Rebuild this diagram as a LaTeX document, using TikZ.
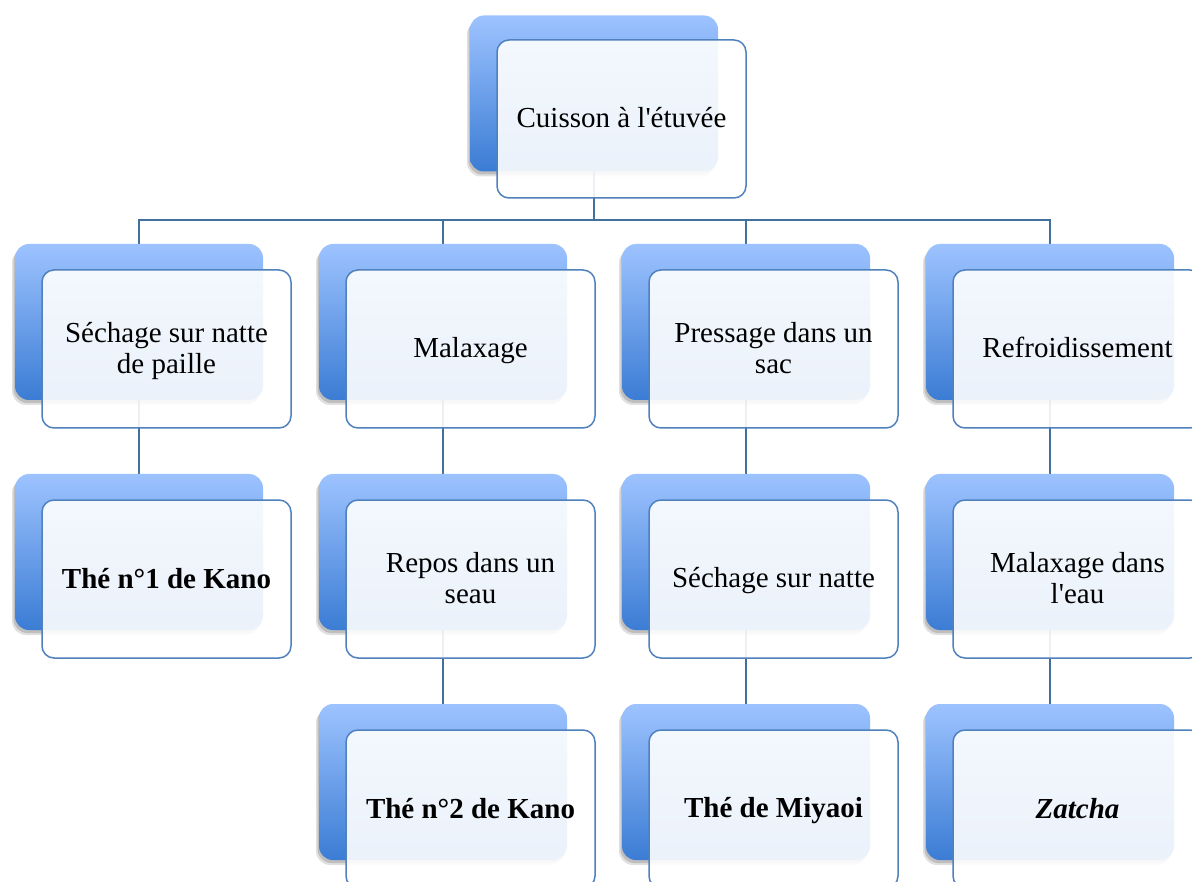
\documentclass[tikz,border=0pt]{standalone}
\usepackage{fontspec}
\setmainfont{Liberation Serif}[Ligatures=TeXOff]
\usetikzlibrary{shadows}
\pgfdeclarelayer{bg}
\pgfsetlayers{bg,main}
\definecolor{backtop}{HTML}{9DC3FF}
\definecolor{backbot}{HTML}{3B7CD4}
\definecolor{frontline}{HTML}{4F81BD}
\definecolor{conn}{HTML}{41709C}
\newcommand{\vs}{\rule[-6pt]{0pt}{30pt}}
\begin{document}
\begin{tikzpicture}[x=1pt,y=-1pt,
  backbox/.style={rounded corners=14pt, minimum width=248pt, minimum height=156pt,
    inner sep=0pt, top color=backtop, bottom color=backbot, draw=none,
    drop shadow={shadow xshift=-3pt, shadow yshift=-5pt, opacity=0.12, fill=black},
    drop shadow={shadow xshift=-1.5pt, shadow yshift=-3pt, opacity=0.15, fill=black}},
  frontbox/.style={rounded corners=12pt, minimum width=249pt, minimum height=158pt,
    draw=frontline, line width=1.5pt, fill=white, fill opacity=0.9, text opacity=1,
    align=center, font=\fontsize{29}{30}\selectfont, inner sep=0pt},
  link/.style={draw=conn, line width=1.6pt}]
\useasboundingbox (0,0) rectangle (1192,882);
\begin{pgfonlayer}{bg}
\fill[white] (0,0) rectangle (1192,882);
\end{pgfonlayer}
% top
\node[backbox] (tb) at (594,93.5) {};
\node[frontbox] (tf) at (621.5,119) {\vs Cuisson à l'étuvée};
% row 1
\node[backbox] (a1b) at (139,322) {};
\node[frontbox] (a1) at (166.5,349) {\vs Séchage sur natte\\\vs de paille};
\node[backbox] (a2b) at (443,322) {};
\node[frontbox] (a2) at (470.5,349) {\vs Malaxage};
\node[backbox] (a3b) at (746,322) {};
\node[frontbox] (a3) at (773.5,349) {\vs Pressage dans un\\\vs sac};
\node[backbox] (a4b) at (1050,322) {};
\node[frontbox] (a4) at (1077.5,349) {\vs Refroidissement};
% row 2
\node[backbox] (b1b) at (139,552) {};
\node[frontbox] (b1) at (166.5,579) {\vs\textbf{Thé n°1 de Kano}};
\node[backbox] (b2b) at (443,552) {};
\node[frontbox] (b2) at (470.5,579) {\vs Repos dans un\\\vs seau};
\node[backbox] (b3b) at (746,552) {};
\node[frontbox] (b3) at (773.5,579) {\vs Séchage sur natte};
\node[backbox] (b4b) at (1050,552) {};
\node[frontbox] (b4) at (1077.5,579) {\vs Malaxage dans\\\vs l'eau};
% row 3
\node[backbox] (c2b) at (443,782) {};
\node[frontbox] (c2) at (470.5,809) {\vs\textbf{Thé n°2 de Kano}};
\node[backbox] (c3b) at (746,782) {};
\node[frontbox] (c3) at (773.5,809) {\vs\textbf{Thé de Miyaoi}};
\node[backbox] (c4b) at (1050,782) {};
\node[frontbox] (c4) at (1077.5,809) {\vs\textbf{\textit{Zatcha}}};
% connectors
\begin{pgfonlayer}{bg}
\coordinate (bus) at (594,220);
\draw[link] (tb.south) -- (bus);
\draw[link] (bus) -| (a1b.north);
\draw[link] (bus) -| (a2b.north);
\draw[link] (bus) -| (a3b.north);
\draw[link] (bus) -| (a4b.north);
\draw[link] (a1b.south) -- (b1b.north);
\draw[link] (a2b.south) -- (b2b.north);
\draw[link] (a3b.south) -- (b3b.north);
\draw[link] (a4b.south) -- (b4b.north);
\draw[link] (b2b.south) -- (c2b.north);
\draw[link] (b3b.south) -- (c3b.north);
\draw[link] (b4b.south) -- (c4b.north);
\end{pgfonlayer}
\end{tikzpicture}
\end{document}
